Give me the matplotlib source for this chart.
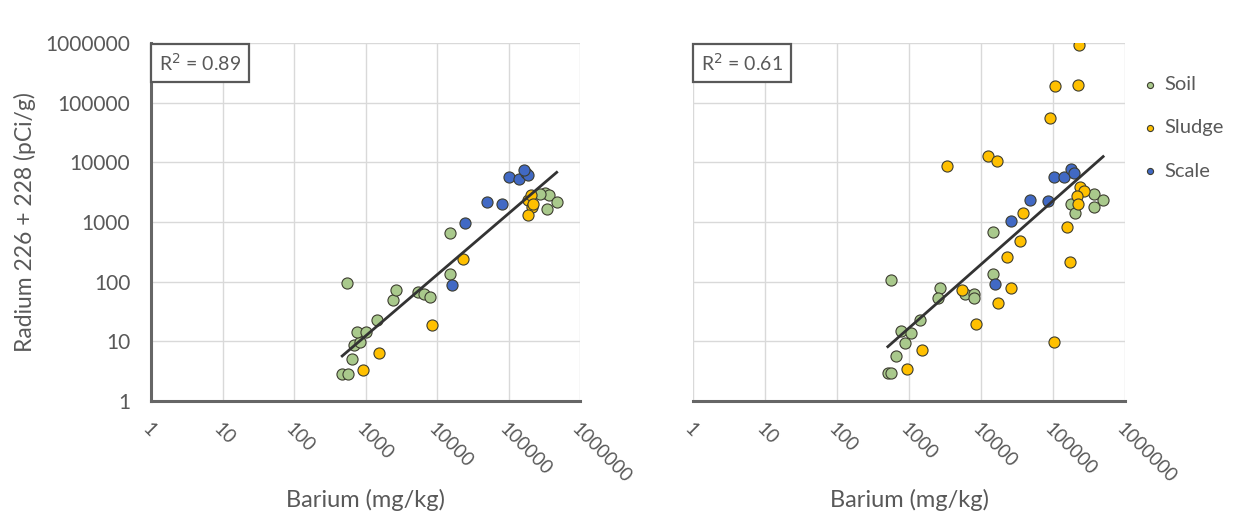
import matplotlib.pyplot as plt
import numpy as np

plt.rcParams['font.family'] = ['Lato', 'DejaVu Sans']

# ---- panel izquierdo (sin outliers) ----
soil_L_x = [472, 567, 651, 688, 851, 765, 1032, 1455, 2430, 2710, 5370, 6510, 8070, 15000, 555, 15300,
            325000, 373000, 472000, 350000, 276000]
soil_L_y = [2.8, 2.87, 5.1, 8.6, 9.7, 14.3, 14.3, 22.5, 48.7, 73.5, 67, 63, 55, 136, 95, 654,
            3100, 2800, 2160, 1670, 2970]
sludge_L_x = [928, 1535, 8510, 23000, 190000, 212000, 190000, 205000, 223000]
sludge_L_y = [3.35, 6.4, 18.8, 240, 2300, 1780, 1290, 2800, 2030]
scale_L_x = [16200, 24800, 49900, 80700, 103000, 138000, 176000, 190000, 166000]
scale_L_y = [87, 962, 2160, 2030, 5680, 5320, 6630, 6050, 7540]

# ---- panel derecho (todos los datos) ----
soil_R_x = [375000, 497000, 375000, 180000, 201000, 14700, 14700, 569, 2670, 2550, 5950, 8070, 7890,
            1435, 780, 1058, 893, 651, 508, 569]
soil_R_y = [2950, 2340, 1810, 2000, 1400, 688, 134, 106, 77, 54, 62, 62, 54,
            22.6, 15, 14, 9.5, 5.7, 2.9, 2.9]
sludge_R_x = [233000, 106000, 225000, 91400, 3380, 12700, 16800, 238000, 267000, 213000, 225000,
              38300, 157000, 35000, 23000, 170000, 25800, 17400, 8540, 102000, 5440, 1500, 945]
sludge_R_y = [912000, 187000, 199000, 55000, 8800, 13000, 10400, 3810, 3350, 2770, 2000,
              1400, 834, 486, 261, 216, 77, 43.6, 19.4, 9.9, 72, 7.1, 3.5]
scale_R_x = [102000, 144000, 180000, 197000, 48000, 86400, 25800, 15500]
scale_R_y = [5760, 5610, 7750, 6550, 2340, 2220, 1025, 93]

r2_text = ['R$^2$ = 0.89', 'R$^2$ = 0.61']
decades = [1, 10, 100, 1000, 10000, 100000, 1000000]
tick_labels = ['1', '10', '100', '1000', '10000', '100000', '1000000']

c_soil = '#a9c98c'
c_sludge = '#ffc000'
c_scale = '#4169c4'
c_edge = '#3d3d30'
c_text = '#595959'

fig = plt.figure(figsize=(12.33, 5.18), dpi=100)
ax1 = fig.add_axes([151 / 1233, 1 - 401 / 518, 429 / 1233, 358 / 518])
ax2 = fig.add_axes([693 / 1233, 1 - 401 / 518, 432 / 1233, 358 / 518])

paneles = [
    (ax1, soil_L_x, soil_L_y, sludge_L_x, sludge_L_y, scale_L_x, scale_L_y),
    (ax2, soil_R_x, soil_R_y, sludge_R_x, sludge_R_y, scale_R_x, scale_R_y),
]

for i, (ax, sx, sy, lx, ly, cx, cy) in enumerate(paneles):
    ax.set_xscale('log')
    ax.set_yscale('log')
    ax.set_xlim(1, 1000000)
    ax.set_ylim(1, 1000000)
    ax.grid(True, color='#d9d9d9', linewidth=1)
    ax.set_axisbelow(True)
    ax.minorticks_off()

    ax.scatter(sx, sy, s=64, color=c_soil, edgecolor=c_edge, linewidth=0.8, zorder=3, label='Soil')
    ax.scatter(lx, ly, s=64, color=c_sludge, edgecolor=c_edge, linewidth=0.8, zorder=3, label='Sludge')
    ax.scatter(cx, cy, s=64, color=c_scale, edgecolor=c_edge, linewidth=0.8, zorder=3, label='Scale')

    # linea de tendencia (ajuste potencial sobre todos los puntos)
    allx = np.log10(np.array(sx + lx + cx, dtype=float))
    ally = np.log10(np.array(sy + ly + cy, dtype=float))
    m, b = np.polyfit(allx, ally, 1)
    xx = np.array([allx.min(), allx.max()])
    ax.plot(10 ** xx, 10 ** (m * xx + b), color='#333333', linewidth=2, zorder=4)

    ax.text(0.018, 0.975, r2_text[i], transform=ax.transAxes, fontsize=14, color=c_text,
            ha='left', va='top',
            bbox=dict(boxstyle='square,pad=0.4', facecolor='white', edgecolor='#595959', linewidth=1.6),
            zorder=5)

    ax.set_xticks(decades)
    ax.set_xticklabels(tick_labels, rotation=-45, ha='left', va='top', rotation_mode='anchor',
                       fontsize=13.5, color=c_text)
    ax.set_yticks(decades)
    ax.tick_params(length=0, pad=15)
    ax.tick_params(axis='x', pad=14)
    ax.set_xlabel('Barium (mg/kg)', fontsize=17, color=c_text, labelpad=2)

    for sp in ['top', 'right']:
        ax.spines[sp].set_visible(False)
    ax.spines['bottom'].set_color('#666666')
    ax.spines['bottom'].set_linewidth(2.2)
    ax.spines['left'].set_color('#666666')
    ax.spines['left'].set_linewidth(2.2)

ax1.set_yticklabels(tick_labels, fontsize=15, color=c_text)
ax1.set_ylabel('Radium 226 + 228 (pCi/g)', fontsize=16.5, color=c_text, labelpad=7)
ax2.set_yticklabels([])
ax2.spines['left'].set_visible(False)

handles, labels = ax2.get_legend_handles_labels()
leg = fig.legend(handles, labels, loc='upper left', bbox_to_anchor=(1142 / 1233, 1 - 76 / 518),
                 frameon=False, fontsize=14.5, markerscale=0.55, handlelength=0.8, handletextpad=0.3,
                 labelspacing=1.3, borderpad=0, borderaxespad=0)
for t in leg.get_texts():
    t.set_color(c_text)

plt.savefig('out.png', dpi=100)
